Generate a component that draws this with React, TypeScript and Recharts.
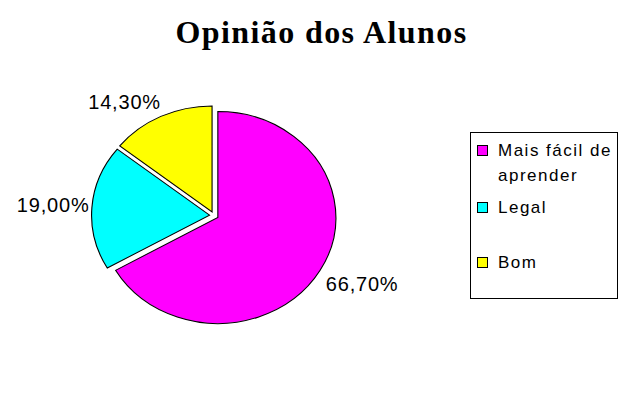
import React from 'react';
import { PieChart, Pie, Cell, Legend } from 'recharts';

const title = 'Opinião dos Alunos';
const categories = ['Mais fácil de aprender', 'Legal', 'Bom'];
const values = [66.7, 19.0, 14.3];
const valueLabels = ['66,70%', '19,00%', '14,30%'];
const colors = ['#FF00FF', '#00FFFF', '#FFFF00'];

const W = 622;
const H = 408;
const CX = 214;
const CY = 215.5;
const R = 106;
const STRETCH = 1.113;
const EXPLODE = 4;
const LABEL_R = 110;
const LABEL_SHIFT = 11;
const RAD = Math.PI / 180;

const total = values.reduce((a, b) => a + b, 0);
const slices = values.map((v, i) => {
  const before = values.slice(0, i).reduce((a, b) => a + b, 0);
  const start = 90 - (360 * before) / total;
  const end = 90 - (360 * (before + v)) / total;
  const mid = (start + end) / 2;
  return {
    name: categories[i],
    value: v,
    text: valueLabels[i],
    color: colors[i],
    start,
    end,
    cx: CX + EXPLODE * Math.cos(mid * RAD),
    cy: CY - EXPLODE * Math.sin(mid * RAD),
  };
});

const makeLabel = (slice: any) => (props: any) => {
  const mid = props.midAngle;
  const c = Math.cos(mid * RAD);
  const s = -Math.sin(mid * RAD);
  const ox = CX + (slice.cx - CX) * STRETCH;
  const px = ox + LABEL_R * c * STRETCH + 2;
  const py = slice.cy + LABEL_R * s + LABEL_SHIFT * Math.max(-1, Math.min(1, 2 * s));
  return (
    <text
      x={px}
      y={py}
      textAnchor={c > 0 ? 'start' : 'end'}
      dominantBaseline="central"
      fontFamily="'Liberation Sans', Arial, sans-serif"
      fontSize={20}
      letterSpacing={0.8}
      fill="#000"
    >
      {slice.text}
    </text>
  );
};

const renderLegend = () => (
  <div
    style={{
      boxSizing: 'border-box',
      width: 148,
      height: 167,
      border: '1px solid #000',
      paddingTop: 5,
      paddingLeft: 6,
      fontFamily: "'Liberation Sans', Arial, sans-serif",
      fontSize: 17,
      letterSpacing: 1.5,
      lineHeight: '25px',
      color: '#000',
      background: '#fff',
      overflow: 'visible',
    }}
  >
    {slices.map((s, i) => (
      <div
        key={s.name}
        style={{ display: 'flex', alignItems: 'flex-start', marginTop: i === 0 ? 0 : i === 1 ? 7 : 30 }}
      >
        <div
          style={{
            boxSizing: 'border-box',
            width: 11,
            height: 11,
            marginTop: 7,
            marginRight: 10,
            border: '1px solid #000',
            background: s.color,
            flex: '0 0 auto',
          }}
        />
        <div style={{ width: 122, flex: '0 0 122px', whiteSpace: 'normal' }}>{s.name}</div>
      </div>
    ))}
  </div>
);

export default function App() {
  return (
    <div
      className="opiniao"
      style={{ position: 'absolute', left: 0, top: 0, width: W, height: H, background: '#fff', overflow: 'hidden' }}
    >
      <style>{`.opiniao path.recharts-sector { transform: scaleX(${STRETCH}); transform-origin: ${CX}px 0px; }`}</style>
      <div
        style={{
          position: 'absolute',
          left: 0,
          top: 16,
          width: W + 21,
          textAlign: 'center',
          fontFamily: "'Liberation Serif', 'Times New Roman', serif",
          fontWeight: 'bold',
          fontSize: 32,
          letterSpacing: 1.4,
          lineHeight: '32px',
          color: '#000',
        }}
      >
        {title}
      </div>
      <PieChart width={W} height={H} margin={{ top: 0, right: 0, bottom: 0, left: 0 }}>
        {slices.map((s) => (
          <Pie
            key={s.name}
            data={[s]}
            dataKey="value"
            nameKey="name"
            cx={s.cx}
            cy={s.cy}
            outerRadius={R}
            startAngle={s.start}
            endAngle={s.end}
            stroke="#000"
            strokeWidth={1}
            label={makeLabel(s)}
            labelLine={false}
            isAnimationActive={false}
          >
            <Cell fill={s.color} />
          </Pie>
        ))}
        <Legend
          layout="vertical"
          align="right"
          verticalAlign="middle"
          content={renderLegend}
          wrapperStyle={{ left: 470, top: 132, right: 'auto', width: 148, height: 167 }}
        />
      </PieChart>
    </div>
  );
}
